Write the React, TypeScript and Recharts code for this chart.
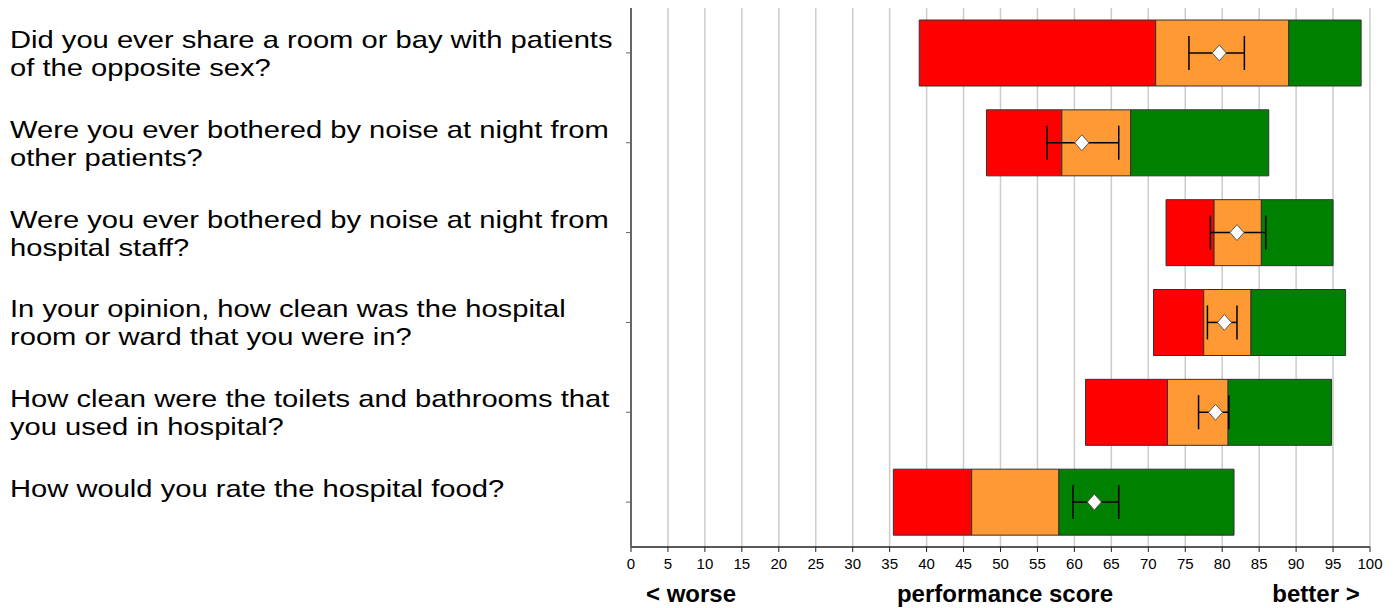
import React from 'react';
import { ComposedChart, Bar, XAxis, YAxis, CartesianGrid, Scatter, ErrorBar } from 'recharts';

const questions = [
  'Did you ever share a room or bay with patients\nof the opposite sex?',
  'Were you ever bothered by noise at night from\nother patients?',
  'Were you ever bothered by noise at night from\nhospital staff?',
  'In your opinion, how clean was the hospital\nroom or ward that you were in?',
  'How clean were the toilets and bathrooms that\nyou used in hospital?',
  'How would you rate the hospital food?',
];
const redStart = [39, 48.1, 72.4, 70.7, 61.5, 35.5];
const redEnd = [71, 58.3, 78.9, 77.5, 72.6, 46.1];
const orangeEnd = [89, 67.6, 85.3, 83.9, 80.8, 57.9];
const greenEnd = [98.8, 86.3, 95, 96.7, 94.8, 81.6];
const scores = [79.6, 61.0, 82.0, 80.3, 79.1, 62.7];
const lowerCI = [75.5, 56.3, 78.4, 78.0, 76.8, 59.8];
const upperCI = [83.0, 66.0, 85.9, 82.0, 80.9, 66.0];
const xTicks = [0, 5, 10, 15, 20, 25, 30, 35, 40, 45, 50, 55, 60, 65, 70, 75, 80, 85, 90, 95, 100];
const bottomLabels = ['< worse', 'performance score', 'better >'];

const FONT = "'Liberation Sans', Arial, Helvetica, sans-serif";

const rows = questions.map((q, i) => ({
  name: q,
  base: redStart[i],
  red: redEnd[i] - redStart[i],
  orange: orangeEnd[i] - redEnd[i],
  green: greenEnd[i] - orangeEnd[i],
  score: scores[i],
  err: [scores[i] - lowerCI[i], upperCI[i] - scores[i]],
}));

const QuestionTick = (props: any) => {
  const { y, payload } = props;
  const lines = String(payload.value).split('\n');
  return (
    <text
      x={10}
      y={y - 5}
      fontSize={24}
      fontFamily={FONT}
      fill="#000"
      textAnchor="start"
      transform="translate(10,0) scale(1.215,1) translate(-10,0)"
    >
      {lines.map((l, i) => (
        <tspan key={i} x={10} dy={i === 0 ? 0 : 28}>
          {l}
        </tspan>
      ))}
    </text>
  );
};

const Diamond = (props: any) => {
  const { cx, cy } = props;
  if (cx == null || cy == null) return null;
  return (
    <polygon
      points={`${cx - 7},${cy} ${cx},${cy - 8} ${cx + 7},${cy} ${cx},${cy + 8}`}
      fill="#ffffff"
      stroke="#555555"
      strokeWidth={1}
    />
  );
};

export default function App() {
  return (
    <div style={{ position: 'absolute', left: 0, top: 0, width: 1398, height: 608, background: '#fff' }}>
      <ComposedChart
        width={1398}
        height={608}
        data={rows}
        layout="vertical"
        margin={{ top: 8, right: 28, bottom: 0, left: 0 }}
        barSize={66}
      >
        <CartesianGrid horizontal={false} stroke="#cccccc" strokeWidth={1.5} />
        <XAxis
          type="number"
          domain={[0, 100]}
          ticks={xTicks}
          interval={0}
          height={61}
          tickSize={5}
          tickMargin={6}
          tick={{ fontSize: 15, fill: '#000', fontFamily: FONT }}
          axisLine={{ stroke: '#222', strokeWidth: 1.5 }}
          tickLine={{ stroke: '#222' }}
        />
        <XAxis
          xAxisId="top"
          orientation="top"
          type="number"
          domain={[0, 100]}
          height={0}
          tick={false}
          tickLine={false}
          axisLine={{ stroke: '#444', strokeWidth: 1.5 }}
        />
        <YAxis
          dataKey="name"
          type="category"
          allowDuplicatedCategory={false}
          width={631}
          tickSize={5}
          tick={<QuestionTick />}
          axisLine={{ stroke: '#666', strokeWidth: 2 }}
          tickLine={{ stroke: '#666' }}
        />
        <YAxis
          yAxisId="right"
          orientation="right"
          type="number"
          domain={[0, 1]}
          width={0}
          tick={false}
          tickLine={false}
          axisLine={{ stroke: '#444', strokeWidth: 1.5 }}
        />
        <Bar dataKey="base" stackId="a" fill="transparent" stroke="none" isAnimationActive={false} />
        <Bar dataKey="red" stackId="a" fill="#ff0000" stroke="#333" strokeWidth={1} isAnimationActive={false} />
        <Bar dataKey="orange" stackId="a" fill="#ff9933" stroke="#333" strokeWidth={1} isAnimationActive={false} />
        <Bar dataKey="green" stackId="a" fill="#008000" stroke="#333" strokeWidth={1} isAnimationActive={false} />
        <Scatter dataKey="score" shape={<Diamond />} isAnimationActive={false}>
          <ErrorBar dataKey="err" direction="x" width={17} stroke="#000" strokeWidth={1.5} />
        </Scatter>
      </ComposedChart>
      <svg width={1398} height={608} style={{ position: 'absolute', left: 0, top: 0, pointerEvents: 'none' }}>
        <text x={691} y={602} textAnchor="middle" fontSize={24} fontWeight="bold" fontFamily={FONT} fill="#000">
          {bottomLabels[0]}
        </text>
        <text x={1005} y={602} textAnchor="middle" fontSize={24} fontWeight="bold" fontFamily={FONT} fill="#000">
          {bottomLabels[1]}
        </text>
        <text x={1316} y={602} textAnchor="middle" fontSize={24} fontWeight="bold" fontFamily={FONT} fill="#000">
          {bottomLabels[2]}
        </text>
      </svg>
    </div>
  );
}
